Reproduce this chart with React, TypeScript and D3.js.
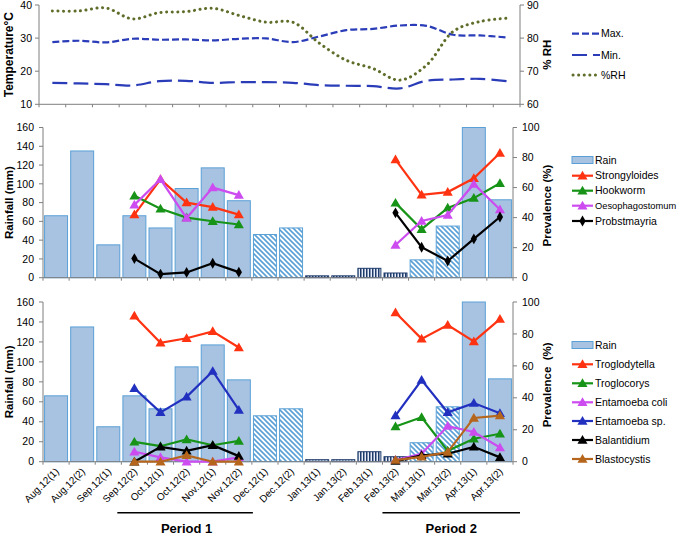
import React from 'react';
import * as d3 from 'd3';

const categories = ['Aug.12(1)', 'Aug.12(2)', 'Sep.12(1)', 'Sep.12(2)', 'Oct.12(1)', 'Oct.12(2)', 'Nov.12(1)', 'Nov.12(2)', 'Dec.12(1)', 'Dec.12(2)', 'Jan.13(1)', 'Jan.13(2)', 'Feb.13(1)', 'Feb.13(2)', 'Mar.13(1)', 'Mar.13(2)', 'Apr.13(1)', 'Apr.13(2)'];

const tempMax = [28.8, 29.2, 28.7, 29.8, 29.5, 29.6, 29.3, 29.8, 29.9, 28.8, 30.5, 32.4, 32.8, 33.8, 33.7, 31.0, 30.8, 30.2];
const tempMin = [16.5, 16.3, 16.1, 15.7, 17.0, 17.1, 16.5, 16.7, 16.7, 16.5, 15.8, 15.6, 15.5, 14.8, 17.1, 17.5, 17.7, 17.0];
const relHumidity = [88.2, 88.2, 89.1, 85.8, 87.7, 88.0, 89.0, 86.8, 84.8, 84.8, 78.4, 73.3, 70.8, 67.3, 71.8, 82.0, 85.0, 86.0];

const rainfall = [66, 135, 35, 66, 53, 95, 117, 82, 46, 53, 2, 2, 10, 5, 19, 55, 160, 83];
const rainPattern = ['solid', 'solid', 'solid', 'solid', 'solid', 'solid', 'solid', 'solid', 'diag', 'diag', 'dots', 'dots', 'vert', 'vert', 'diag', 'diag', 'solid', 'solid'];

const N = null;
const strongyloides = [N, N, N, 42, 65.5, 50, 47, 42, N, N, N, N, N, 78.6, 55.2, 57, 66.2, 83];
const hookworm = [N, N, N, 54.6, 45.9, 40, 37.6, 35.4, N, N, N, N, N, 49.8, 32.3, 46.5, 53, 62.9];
const oesophagostomum = [N, N, N, 48.5, 65.5, 39.7, 60, 55, N, N, N, N, N, 21.8, 37.8, 41.7, 62.4, 45.4];
const probstmayria = [N, N, N, 12.7, 2.4, 3.5, 9.6, 3.7, N, N, N, N, N, 43.2, 20.3, 11.1, 25.8, 40.4];

const troglodytella = [N, N, N, 91.3, 74.4, 77.3, 81.6, 71.5, N, N, N, N, N, 93.4, 76.9, 85.6, 75.3, 89.3];
const troglocorys = [N, N, N, 12.4, 9.7, 13.9, 10.3, 13, N, N, N, N, N, 22, 27.8, 6.8, 14.4, 17.5];
const entamoebaColi = [N, N, N, 6.2, 2.7, 0, 0, 2.7, N, N, N, N, N, 1, 5, 22.3, 18.6, 8.9];
const entamoebaSp = [N, N, N, 46, 30.9, 40.6, 56.7, 32.4, N, N, N, N, N, 28.9, 51.1, 30.9, 36.7, 30.3];
const balantidium = [N, N, N, 0, 9.3, 6.8, 10.3, 3.5, N, N, N, N, N, 0.4, 4, 5, 9.3, 2.7];
const blastocystis = [N, N, N, 0, 0, 4, 0, 0, N, N, N, N, N, 1, 3, 6, 27.4, 28.9];

const tempTicks = [10, 20, 30, 40];
const rhTicks = [60, 70, 80, 90];
const rainTicks = [0, 20, 40, 60, 80, 100, 120, 140, 160];
const prevTicks = [0, 20, 40, 60, 80, 100];

const FONT = "'Liberation Sans', Arial, sans-serif";
const RED = '#ff3311';
const GREEN = '#179417';
const MAGENTA = '#cc4cf0';
const BLACK = '#000000';
const BLUE = '#2230bf';
const BROWN = '#b5661c';
const TBLUE = '#2a3cb8';
const OLIVE = '#5e6e2a';
const BAR_FILL = '#a8c3e2';
const BAR_STROKE = '#5aa0d6';
const NAVY = '#1d3a6b';

type Series = { name: string; values: (number | null)[]; color: string; marker: 'tri' | 'diamond' };

const midSeries: Series[] = [
  { name: 'Strongyloides', values: strongyloides, color: RED, marker: 'tri' },
  { name: 'Hookworm', values: hookworm, color: GREEN, marker: 'tri' },
  { name: 'Oesophagostomum', values: oesophagostomum, color: MAGENTA, marker: 'tri' },
  { name: 'Probstmayria', values: probstmayria, color: BLACK, marker: 'diamond' },
];
const botSeries: Series[] = [
  { name: 'Troglodytella', values: troglodytella, color: RED, marker: 'tri' },
  { name: 'Troglocorys', values: troglocorys, color: GREEN, marker: 'tri' },
  { name: 'Entamoeba coli', values: entamoebaColi, color: MAGENTA, marker: 'tri' },
  { name: 'Entamoeba sp.', values: entamoebaSp, color: BLUE, marker: 'tri' },
  { name: 'Balantidium', values: balantidium, color: BLACK, marker: 'tri' },
  { name: 'Blastocystis', values: blastocystis, color: BROWN, marker: 'tri' },
];

const triPath = d3.symbol(d3.symbolTriangle, 44)() as string;
const diaPath = d3.symbol(d3.symbolDiamond, 34)() as string;

function Marker({ x, y, s }: { x: number; y: number; s: Series }) {
  return <path d={s.marker === 'tri' ? triPath : diaPath} transform={`translate(${x},${y + (s.marker === 'tri' ? 0.8 : 0)})`} fill={s.color} />;
}

function fillFor(p: string) {
  if (p === 'solid') return BAR_FILL;
  if (p === 'diag') return 'url(#pDiag)';
  if (p === 'dots') return 'url(#pDots)';
  return 'url(#pVert)';
}
function strokeFor(p: string) {
  if (p === 'solid' || p === 'diag') return BAR_STROKE;
  return NAVY;
}

function BarPanel({ x0, x1, yTop, yBot, series, legendYs, prevLabel, prevLabelX, showX }: any) {
  const x = d3.scaleBand<string>().domain(categories).range([x0, x1]).padding(0);
  const bw = x.bandwidth();
  const yL = d3.scaleLinear().domain([0, 160]).range([yBot, yTop]);
  const yR = d3.scaleLinear().domain([0, 100]).range([yBot, yTop]);
  const barW = bw * 0.88;
  const line = d3.line<number | null>()
    .defined((d) => d != null)
    .x((_, i) => (x(categories[i]) as number) + bw / 2)
    .y((d) => yR(d as number));
  return (
    <g>
      {rainfall.map((v, i) => (
        <rect key={i} x={(x(categories[i]) as number) + (bw - barW) / 2} y={yL(v)} width={barW} height={yL(0) - yL(v)}
          fill={fillFor(rainPattern[i])} stroke={strokeFor(rainPattern[i])} strokeWidth={1} />
      ))}
      <line x1={x0} x2={x1} y1={yBot} y2={yBot} stroke="#7f7f7f" strokeWidth={1} />
      {d3.range(categories.length + 1).map((i) => (
        <line key={i} x1={x0 + i * bw} x2={x0 + i * bw} y1={yBot} y2={yBot + 3} stroke="#7f7f7f" />
      ))}
      <line x1={x0} x2={x0} y1={yTop} y2={yBot} stroke="#7f7f7f" />
      {rainTicks.map((t) => (
        <g key={t}>
          <line x1={x0 - 4} x2={x0} y1={yL(t)} y2={yL(t)} stroke="#7f7f7f" />
          <text x={x0 - 9} y={yL(t)} dy="0.35em" textAnchor="end" fontSize={10.5} fontFamily={FONT}>{t}</text>
        </g>
      ))}
      <line x1={x1} x2={x1} y1={yTop} y2={yBot} stroke="#7f7f7f" />
      {prevTicks.map((t) => (
        <g key={t}>
          <line x1={x1} x2={x1 + 4} y1={yR(t)} y2={yR(t)} stroke="#7f7f7f" />
          <text x={x1 + 9} y={yR(t)} dy="0.35em" textAnchor="start" fontSize={10.5} fontFamily={FONT}>{t}</text>
        </g>
      ))}
      <text transform={`translate(13,${(yTop + yBot) / 2}) rotate(-90)`} textAnchor="middle" fontWeight="bold" fontSize={11.5} fontFamily={FONT}>Rainfall (mm)</text>
      <text transform={`translate(${prevLabelX},${(yTop + yBot) / 2 + 3}) rotate(-90)`} textAnchor="middle" fontWeight="bold" fontSize={11.5} fontFamily={FONT} style={{ whiteSpace: 'pre' }}>{prevLabel}</text>
      {series.map((s: Series) => (
        <g key={s.name}>
          <path d={line(s.values) as string} fill="none" stroke={s.color} strokeWidth={2.2} />
          {s.values.map((v, i) => v == null ? null : <Marker key={i} x={(x(categories[i]) as number) + bw / 2} y={yR(v)} s={s} />)}
        </g>
      ))}
      <rect x={572} y={legendYs[0] - 3.5} width={21} height={7} fill={BAR_FILL} stroke={BAR_STROKE} />
      <text x={595} y={legendYs[0]} dy="0.35em" fontSize={10.5} fontFamily={FONT}>Rain</text>
      {series.map((s: Series, i: number) => (
        <g key={s.name}>
          <line x1={572} x2={593} y1={legendYs[i + 1]} y2={legendYs[i + 1]} stroke={s.color} strokeWidth={2.2} />
          <Marker x={582.5} y={legendYs[i + 1]} s={s} />
          <text x={595} y={legendYs[i + 1]} dy="0.35em" fontSize={s.name.length > 14 ? 9.3 : 10.5} fontFamily={FONT}>{s.name}</text>
        </g>
      ))}
      {showX && categories.map((c) => (
        <text key={c} transform={`translate(${(x(c) as number) + bw / 2 + 1},${yBot + 8}) rotate(-45)`} textAnchor="end" dy="0.35em" fontSize={10} fontFamily={FONT}>{c}</text>
      ))}
    </g>
  );
}

export default function App() {
  const W = 677, H = 535;
  const tx0 = 39, tx1 = 520, tTop = 5, tBot = 104.3;
  const xT = d3.scaleBand<string>().domain(categories).range([tx0, tx1]).padding(0);
  const tbw = xT.bandwidth();
  const yTemp = d3.scaleLinear().domain([10, 40]).range([tBot, tTop]);
  const yRH = d3.scaleLinear().domain([60, 90]).range([tBot, tTop]);
  const curve = d3.curveCatmullRom.alpha(0.5);
  const lineTemp = d3.line<number>().x((_, i) => (xT(categories[i]) as number) + tbw / 2).y((d) => yTemp(d)).curve(curve);
  const lineRH = d3.line<number>().x((_, i) => (xT(categories[i]) as number) + tbw / 2).y((d) => yRH(d)).curve(curve);

  const xB = d3.scaleBand<string>().domain(categories).range([43, 513]).padding(0);
  const bbw = xB.bandwidth();

  return (
    <svg width={W} height={H} style={{ position: 'absolute', left: 0, top: 0, background: '#fff' }} fontFamily={FONT}>
      <defs>
        <pattern id="pDiag" patternUnits="userSpaceOnUse" width={5} height={5}>
          <rect width={5} height={5} fill="#fff" />
          <path d="M0,0 L5,5 M-1,4 L1,6 M4,-1 L6,1" stroke={BAR_STROKE} strokeWidth={1.6} />
        </pattern>
        <pattern id="pDots" patternUnits="userSpaceOnUse" width={3} height={3}>
          <rect width={3} height={3} fill="#cfdcee" />
          <rect width={1.5} height={1.5} fill={NAVY} />
        </pattern>
        <pattern id="pVert" patternUnits="userSpaceOnUse" width={3} height={3}>
          <rect width={3} height={3} fill="#e8eef7" />
          <rect width={1.5} height={3} fill={NAVY} />
        </pattern>
      </defs>

      <line x1={tx0} x2={tx1} y1={tBot} y2={tBot} stroke="#7f7f7f" />
      {d3.range(categories.length + 1).map((i) => (
        <line key={i} x1={tx0 + i * tbw} x2={tx0 + i * tbw} y1={tBot} y2={tBot + 3} stroke="#7f7f7f" />
      ))}
      <line x1={tx0} x2={tx0} y1={tTop} y2={tBot} stroke="#7f7f7f" />
      {tempTicks.map((t) => (
        <g key={t}>
          <line x1={tx0 - 4} x2={tx0} y1={yTemp(t)} y2={yTemp(t)} stroke="#7f7f7f" />
          <text x={tx0 - 7} y={yTemp(t)} dy="0.35em" textAnchor="end" fontSize={10.5}>{t}</text>
        </g>
      ))}
      <line x1={tx1} x2={tx1} y1={tTop} y2={tBot} stroke="#7f7f7f" />
      {rhTicks.map((t) => (
        <g key={t}>
          <line x1={tx1} x2={tx1 + 4} y1={yRH(t)} y2={yRH(t)} stroke="#7f7f7f" />
          <text x={tx1 + 7} y={yRH(t)} dy="0.35em" textAnchor="start" fontSize={10.5}>{t}</text>
        </g>
      ))}
      <text transform={`translate(13,${(tTop + tBot) / 2}) rotate(-90)`} textAnchor="middle" fontWeight="bold" fontSize={12}>Temperature°C</text>
      <text transform={`translate(551,${(tTop + tBot) / 2}) rotate(-90)`} textAnchor="middle" fontWeight="bold" fontSize={11.5}>% RH</text>
      <path d={lineTemp(tempMax) as string} fill="none" stroke={TBLUE} strokeWidth={2.2} strokeDasharray="7,3" />
      <path d={lineTemp(tempMin) as string} fill="none" stroke={TBLUE} strokeWidth={2.2} strokeDasharray="15,6" />
      <path d={lineRH(relHumidity) as string} fill="none" stroke={OLIVE} strokeWidth={3} strokeDasharray="0.1,5.5" strokeLinecap="round" />
      <line x1={572} x2={600} y1={33.7} y2={33.7} stroke={TBLUE} strokeWidth={2.2} strokeDasharray="7,3" />
      <text x={601} y={33.7} dy="0.35em" fontSize={10.5}>Max.</text>
      <line x1={572} x2={600} y1={55} y2={55} stroke={TBLUE} strokeWidth={2.2} strokeDasharray="15,6" />
      <text x={601} y={55} dy="0.35em" fontSize={10.5}>Min.</text>
      <line x1={573} x2={600} y1={75} y2={75} stroke={OLIVE} strokeWidth={3} strokeDasharray="0.1,5.5" strokeLinecap="round" />
      <text x={601} y={75} dy="0.35em" fontSize={10.5}>%RH</text>

      <BarPanel x0={43} x1={513} yTop={127.5} yBot={277.7} series={midSeries}
        legendYs={[160, 175.7, 190.7, 205.7, 221]} prevLabel="Prevalence (%)" prevLabelX={551} showX={false} />

      <BarPanel x0={43} x1={513} yTop={302} yBot={461.7} series={botSeries}
        legendYs={[345, 364.3, 383.3, 402.3, 421, 440, 459]} prevLabel="Prevalence  (%)" prevLabelX={551} showX={true} />

      <line x1={(xB('Sep.12(2)') as number) - 4} x2={(xB('Nov.12(2)') as number) + bbw + 1} y1={512.7} y2={512.7} stroke="#000" strokeWidth={1.5} />
      <text x={((xB('Sep.12(2)') as number) + (xB('Nov.12(2)') as number) + bbw) / 2} y={533} textAnchor="middle" fontWeight="bold" fontSize={13}>Period 1</text>
      <line x1={(xB('Feb.13(2)') as number)} x2={(xB('Apr.13(2)') as number) + bbw + 7} y1={512.7} y2={512.7} stroke="#000" strokeWidth={1.5} />
      <text x={((xB('Feb.13(2)') as number) + (xB('Apr.13(2)') as number) + bbw + 7) / 2} y={533} textAnchor="middle" fontWeight="bold" fontSize={13}>Period 2</text>
    </svg>
  );
}
